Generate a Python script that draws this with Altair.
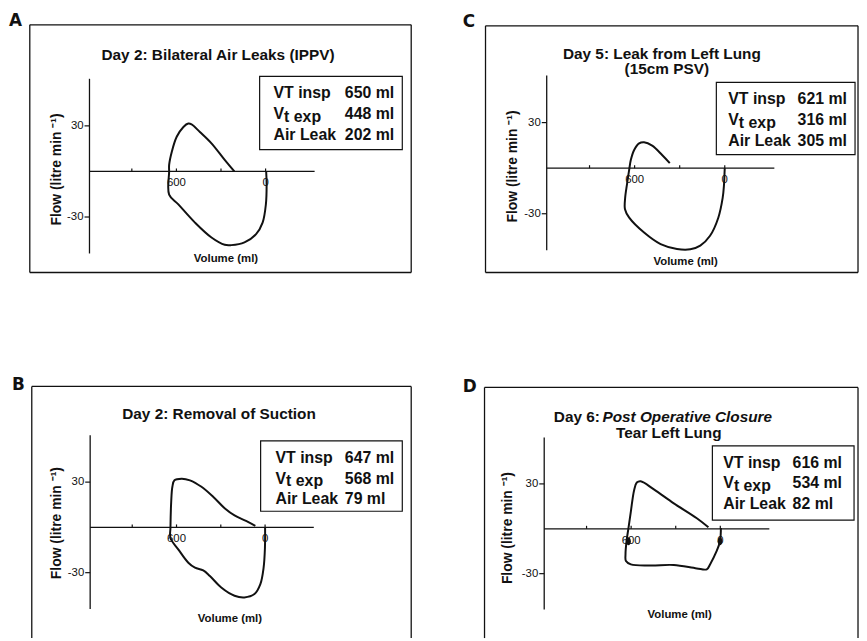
import altair as alt
import pandas as pd

# ---------------- data (volume in ml, flow in litre/min) ----------------
A_VOL = [210, 275, 364, 442, 498, 520, 553, 598, 631, 649, 649, 649, 587, 475, 364, 275, 231, 142, 64, 20, -2, -7, -4]
A_FLOW = [0, 7.6, 18.5, 26, 31, 31.5, 29.3, 22.8, 13, 4.3, 0, -15.2, -21.7, -33.7, -43.5, -48.3, -48.5, -46.7, -41.3, -33.7, -21.7, -8.7, 0]

C_VOL = [366, 417, 483, 537, 570, 603, 625, 636, 651, 663, 664, 636, 537, 427, 318, 229, 163, 98, 43, 14, 5, 1, 0]
C_FLOW = [3.3, 8.7, 14.8, 17, 16.3, 12, 5.5, -1, -10.8, -19.6, -27, -32.6, -42.4, -50, -53.2, -53.4, -51, -44.5, -32.6, -19.6, -10.8, -2, 0]

B_VOL = [66, 129, 207, 274, 352, 431, 509, 565, 614, 628, 636, 641, 641, 587, 520, 475, 419, 374, 297, 207, 140, 72, 32, 10, 1, 0]
B_FLOW = [1, 4.3, 7.9, 12.7, 20.3, 26.9, 31.2, 32.3, 31.2, 26.9, 17, 0, -7, -14.7, -23.4, -26.7, -28.5, -32.2, -39.8, -45.3, -46.4, -44.2, -37.6, -26.7, -13.6, 0]

D_VOL = [80, 158, 313, 447, 536, 562, 580, 602, 618, 631, 638, 635, 602, 469, 313, 158, 91, 69, 25, 2, -4]
D_FLOW = [1, 7, 17, 26.3, 31.8, 30.9, 25.8, 11.5, 0.5, -8.3, -17.2, -21.6, -23.8, -24.5, -24.2, -26.5, -27.1, -23.8, -15, -8.3, 0.5]
D_DOT_VOL = [618, 2]
D_DOT_FLOW = [-8.3, -8.3]

X_AXIS_EXTENT = [1185, -330]
Y_AXIS_EXTENT = [-54, 61]
X_TICKS = [900, 600, 300, 0]
X_TICK_LABELS = [600, 0]
Y_TICKS = [30, -30]

INFO_LABELS = ["VT insp", "Vt exp", "Air Leak"]
A_INFO = ["650 ml", "448 ml", "202 ml"]
C_INFO = ["621 ml", "316 ml", "305 ml"]
B_INFO = ["647 ml", "568 ml", "79 ml"]
D_INFO = ["616 ml", "534 ml", "82 ml"]

A_TITLE = ["Day 2: Bilateral Air Leaks (IPPV)"]
C_TITLE = ["Day 5: Leak from Left Lung", "(15cm PSV)"]
B_TITLE = ["Day 2: Removal of Suction"]
D_TITLE = ["Day 6: ", "Post Operative Closure", "Tear Left Lung"]

Y_TITLE = "Flow (litre min \u207b\u00b9)"
X_TITLE = "Volume (ml)"

# ---------------- layout (page pixels) ----------------
FONT = "Liberation Sans"
BLACK = "#111111"
DUMMY = alt.Data(values=[{"k": 0}])

PANELS = [
    dict(key="A", vol=A_VOL, flow=A_FLOW, info=A_INFO,
         ox=8, oy=8, W=422, H=322, x0=268, kx=0.15, y0=170, ky=46 / 30,
         letter=(9, 23), frame=(30, 22, 415, 272),
         titles=[(A_TITLE[0], 220, 58)], ytitle=(57, 168), xtitle=(228, 261),
         box=(262, 74, 406, 148), labx=276, valx=348),
    dict(key="C", vol=C_VOL, flow=C_FLOW, info=C_INFO,
         ox=430, oy=8, W=437, H=322, x0=731.5, kx=45.5 / 300, y0=166.7, ky=46 / 30,
         letter=(467, 24), frame=(490, 23, 866, 272),
         titles=[(C_TITLE[0], 668, 56), (C_TITLE[1], 673, 72)], ytitle=(518, 165), xtitle=(692, 264),
         box=(723, 80, 863, 153), labx=735, valx=805),
    dict(key="B", vol=B_VOL, flow=B_FLOW, info=B_INFO,
         ox=8, oy=330, W=422, H=311, x0=267.5, kx=0.149, y0=529.3, ky=45.7 / 30,
         letter=(12, 391), frame=(32, 387, 415, None),
         titles=[(B_TITLE[0], 221, 420)], ytitle=(58, 525), xtitle=(232, 625),
         box=(263, 442, 406, 513), labx=278, valx=348),
    dict(key="D", vol=D_VOL, flow=D_FLOW, info=D_INFO,
         ox=430, oy=330, W=437, H=311, x0=727, kx=0.15, y0=530.7, ky=45.3 / 30,
         letter=(467, 393), frame=(489, 388, 866, None),
         titles=[(D_TITLE[2], 675, 439)], ytitle=(513, 530), xtitle=(686, 621),
         box=(719, 447, 862, 522), labx=730, valx=800),
]


def text_mark(s, x, y, size, weight="bold", align="left", baseline="alphabetic",
              angle=0, style="normal", font=FONT):
    return alt.Chart(DUMMY).mark_text(
        text=s, align=align, baseline=baseline, fontSize=size, fontWeight=weight,
        fontStyle=style, font=font, angle=angle, color=BLACK
    ).encode(x=alt.value(x), y=alt.value(y))


def hline(x1, x2, y, w=1.3):
    return alt.Chart(DUMMY).mark_rule(color=BLACK, strokeWidth=w).encode(
        x=alt.value(x1), x2=alt.value(x2), y=alt.value(y))


def vline(x, y1, y2, w=1.3):
    return alt.Chart(DUMMY).mark_rule(color=BLACK, strokeWidth=w).encode(
        x=alt.value(x), y=alt.value(y1), y2=alt.value(y2))


def panel(p):
    ox, oy, W, H = p["ox"], p["oy"], p["W"], p["H"]
    px = lambda v: v - ox
    py = lambda v: v - oy
    vL = (p["x0"] - ox) / p["kx"]
    vR = (p["x0"] - ox - W) / p["kx"]
    fT = (p["y0"] - oy) / p["ky"]
    fB = (p["y0"] - oy - H) / p["ky"]
    xs = alt.Scale(domain=[vR, vL], reverse=True, nice=False, zero=False)
    ys = alt.Scale(domain=[fB, fT], nice=False, zero=False)

    def X(f):
        return alt.X(f, type="quantitative", scale=xs, axis=None)

    def Y(f):
        return alt.Y(f, type="quantitative", scale=ys, axis=None)

    layers = []
    # frame
    L, T, R, Bm = p["frame"]
    bottom = Bm if Bm is not None else H + oy
    layers.append(hline(px(L), px(R), py(T)))
    layers.append(vline(px(L), py(T), py(bottom)))
    layers.append(vline(px(R), py(T), py(bottom)))
    if Bm is not None:
        layers.append(hline(px(L), px(R), py(Bm)))

    # axes
    xax = pd.DataFrame({"v1": [X_AXIS_EXTENT[0]], "v2": [X_AXIS_EXTENT[1]], "f": [0]})
    layers.append(alt.Chart(xax).mark_rule(color=BLACK, strokeWidth=1.3).encode(
        x=X("v1"), x2="v2", y=Y("f")))
    yax = pd.DataFrame({"v": [X_AXIS_EXTENT[0]], "f1": [Y_AXIS_EXTENT[0]], "f2": [Y_AXIS_EXTENT[1]]})
    layers.append(alt.Chart(yax).mark_rule(color=BLACK, strokeWidth=1.3).encode(
        x=X("v"), y=Y("f1"), y2="f2"))

    xt = pd.DataFrame({"v": X_TICKS, "f": [0] * len(X_TICKS)})
    layers.append(alt.Chart(xt).mark_point(shape="M 0 0 L 0 -1", size=36, filled=False,
                                           color=BLACK, strokeWidth=1.2, opacity=1).encode(
        x=X("v"), y=Y("f")))
    yt = pd.DataFrame({"v": [X_AXIS_EXTENT[0]] * len(Y_TICKS), "f": Y_TICKS,
                       "lab": [str(t) for t in Y_TICKS]})
    layers.append(alt.Chart(yt).mark_point(shape="M -1 0 L 0 0", size=100, filled=False,
                                           color=BLACK, strokeWidth=1.2, opacity=1).encode(
        x=X("v"), y=Y("f")))
    layers.append(alt.Chart(yt).mark_text(align="right", baseline="middle", dx=-6, fontSize=11.5,
                                          font=FONT, color=BLACK).encode(
        x=X("v"), y=Y("f"), text="lab:N"))
    xl = pd.DataFrame({"v": X_TICK_LABELS, "f": [0] * len(X_TICK_LABELS),
                       "lab": [str(t) for t in X_TICK_LABELS]})
    layers.append(alt.Chart(xl).mark_text(align="center", baseline="middle", dy=12, fontSize=11.5,
                                          font=FONT, color=BLACK).encode(
        x=X("v"), y=Y("f"), text="lab:N"))

    # loop
    loop = pd.DataFrame({"v": p["vol"], "f": p["flow"], "i": list(range(len(p["vol"])))})
    layers.append(alt.Chart(loop).mark_line(color=BLACK, strokeWidth=2,
                                            interpolate="catmull-rom").encode(
        x=X("v"), y=Y("f"), order="i:Q"))

    if p["key"] == "D":
        dots = pd.DataFrame({"v": D_DOT_VOL, "f": D_DOT_FLOW})
        layers.append(alt.Chart(dots).mark_point(
            shape="M 0 -1 A 0.6 1 0 1 1 0 1 A 0.6 1 0 1 1 0 -1 Z",
            size=64, filled=True, color=BLACK, opacity=1).encode(x=X("v"), y=Y("f")))
        layers.append(text_mark(D_TITLE[0], px(559), py(423), 15.5))
        layers.append(text_mark(D_TITLE[1], px(608), py(423), 15.5, style="italic"))

    # letter and titles
    lx, lyb = p["letter"]
    layers.append(text_mark(p["key"], px(lx), py(lyb), 17, font="DejaVu Sans"))
    for s, tx, ty in p["titles"]:
        layers.append(text_mark(s, px(tx), py(ty), 15.5, align="center"))
    yx, yy = p["ytitle"]
    layers.append(text_mark(Y_TITLE, px(yx), py(yy), 14, align="center", baseline="middle", angle=270))
    xx, xy = p["xtitle"]
    layers.append(text_mark(X_TITLE, px(xx), py(xy), 11.5, align="center"))

    # info box
    bl, bt, br, bb = p["box"]
    layers.append(alt.Chart(DUMMY).mark_rect(fill="white", stroke=BLACK, strokeWidth=1.2).encode(
        x=alt.value(px(bl)), x2=alt.value(px(br)), y=alt.value(py(bt)), y2=alt.value(py(bb))))
    for k, (lab, val) in enumerate(zip(INFO_LABELS, p["info"])):
        base = bt + 22 + 21 * k
        if lab == "Vt exp":
            layers.append(text_mark("V", px(p["labx"]), py(base), 16))
            layers.append(text_mark("t exp", px(p["labx"] + 10.7), py(base + 3), 16))
        else:
            layers.append(text_mark(lab, px(p["labx"]), py(base), 16))
        layers.append(text_mark(val, px(p["valx"]), py(base), 16))

    return alt.layer(*layers).properties(width=W, height=H)


charts = [panel(p) for p in PANELS]
chart = alt.concat(*charts, columns=2, spacing=0, bounds="flush").properties(
    padding=0, background="white").configure_view(stroke=None)

chart.save("out.html", embed_options={"renderer": "svg", "actions": False})
